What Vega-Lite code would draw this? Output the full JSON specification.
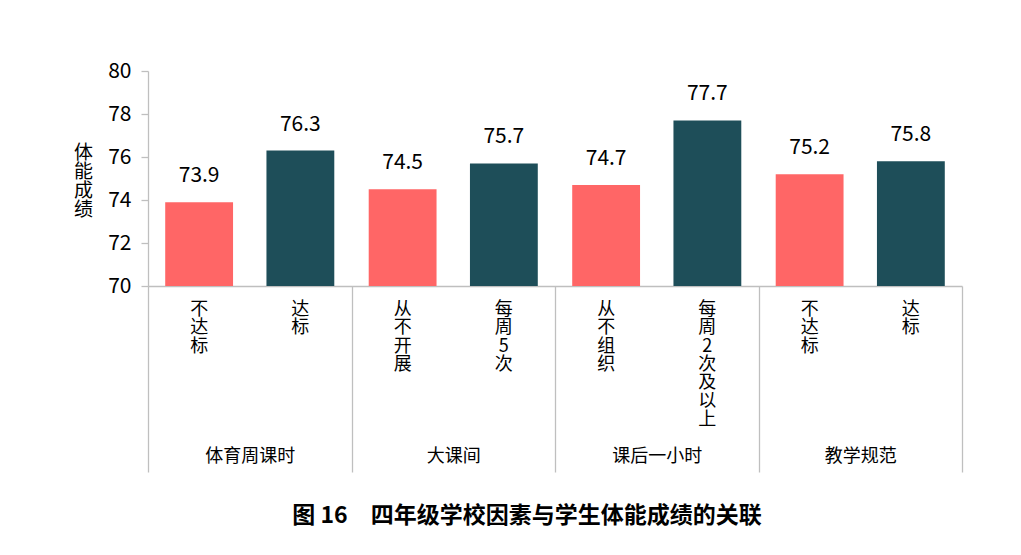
{
  "$schema": "https://vega.github.io/schema/vega-lite/v6.json",
  "width": 814,
  "height": 215,
  "autosize": {"type": "none"},
  "padding": {"left": 148, "top": 71, "right": 59, "bottom": 269},
  "background": "white",
  "config": {
    "view": {"stroke": null},
    "font": "Noto Sans CJK SC"
  },
  "title": {
    "text": "图 16　四年级学校因素与学生体能成绩的关联",
    "orient": "bottom",
    "anchor": "middle",
    "frame": "group",
    "offset": 32,
    "dx": -28,
    "fontSize": 23,
    "fontWeight": "bold",
    "color": "#000000",
    "font": "Noto Sans CJK SC"
  },
  "data": {
    "values": [
      {"group": "体育周课时", "level": "不达标", "kind": "no", "score": 73.9},
      {"group": "体育周课时", "level": "达标", "kind": "yes", "score": 76.3},
      {"group": "大课间", "level": "从不开展", "kind": "no", "score": 74.5},
      {"group": "大课间", "level": "每周 5 次", "kind": "yes", "score": 75.7},
      {"group": "课后一小时", "level": "从不组织", "kind": "no", "score": 74.7},
      {"group": "课后一小时", "level": "每周 2 次及以上", "kind": "yes", "score": 77.7},
      {"group": "教学规范", "level": "不达标", "kind": "no", "score": 75.2},
      {"group": "教学规范", "level": "达标", "kind": "yes", "score": 75.8}
    ]
  },
  "encoding": {
    "x": {
      "field": "group",
      "type": "nominal",
      "sort": ["体育周课时", "大课间", "课后一小时", "教学规范"],
      "scale": {"paddingInner": 0, "paddingOuter": 0},
      "axis": {
        "title": null,
        "labelAngle": 0,
        "labelFontSize": 18,
        "labelColor": "#000000",
        "labelFont": "Noto Sans CJK SC",
        "labelPadding": -25,
        "tickBand": "extent",
        "tickSize": 186,
        "tickColor": "#bfbfbf",
        "tickWidth": 1.3,
        "domainColor": "#bfbfbf",
        "domainWidth": 1.3
      }
    },
    "xOffset": {
      "field": "kind",
      "type": "nominal",
      "sort": ["no", "yes"],
      "scale": {"paddingInner": 0.33, "paddingOuter": 0.17}
    }
  },
  "layer": [
    {
      "mark": {"type": "bar"},
      "encoding": {
        "y": {
          "field": "score",
          "type": "quantitative",
          "scale": {"domain": [70, 80], "zero": false, "nice": false},
          "axis": {
            "values": [70, 72, 74, 76, 78, 80],
            "grid": false,
            "tickSize": 7,
            "tickColor": "#bfbfbf",
            "tickWidth": 1.3,
            "domainColor": "#bfbfbf",
            "domainWidth": 1.3,
            "labelFontSize": 21,
            "labelColor": "#000000",
            "labelPadding": 10,
            "labelFont": "Noto Sans CJK SC",
            "title": ["体", "能", "成", "绩"],
            "titleAngle": 0,
            "titleFontSize": 19,
            "titleFontWeight": "normal",
            "titleColor": "#000000",
            "titleLineHeight": 19,
            "titleAlign": "center",
            "titleBaseline": "top",
            "titleX": -65,
            "titleY": 72
          }
        },
        "y2": {"datum": 70},
        "color": {
          "field": "kind",
          "type": "nominal",
          "scale": {"domain": ["no", "yes"], "range": ["#ff6666", "#1e4e59"]},
          "legend": null
        }
      }
    },
    {
      "mark": {"type": "text", "baseline": "alphabetic", "dy": -20, "fontSize": 21, "color": "#000000"},
      "encoding": {
        "y": {"field": "score", "type": "quantitative"},
        "text": {"field": "score", "type": "quantitative", "format": ".1f"}
      }
    },
    {
      "transform": [
        {"calculate": "split(replace(datum.level, regexp(' ', 'g'), ''), '')", "as": "chars"}
      ],
      "mark": {"type": "text", "baseline": "top", "dy": 15, "fontSize": 18, "lineHeight": 18.3, "color": "#000000"},
      "encoding": {
        "y": {"datum": 70},
        "text": {"field": "chars"}
      }
    }
  ]
}
